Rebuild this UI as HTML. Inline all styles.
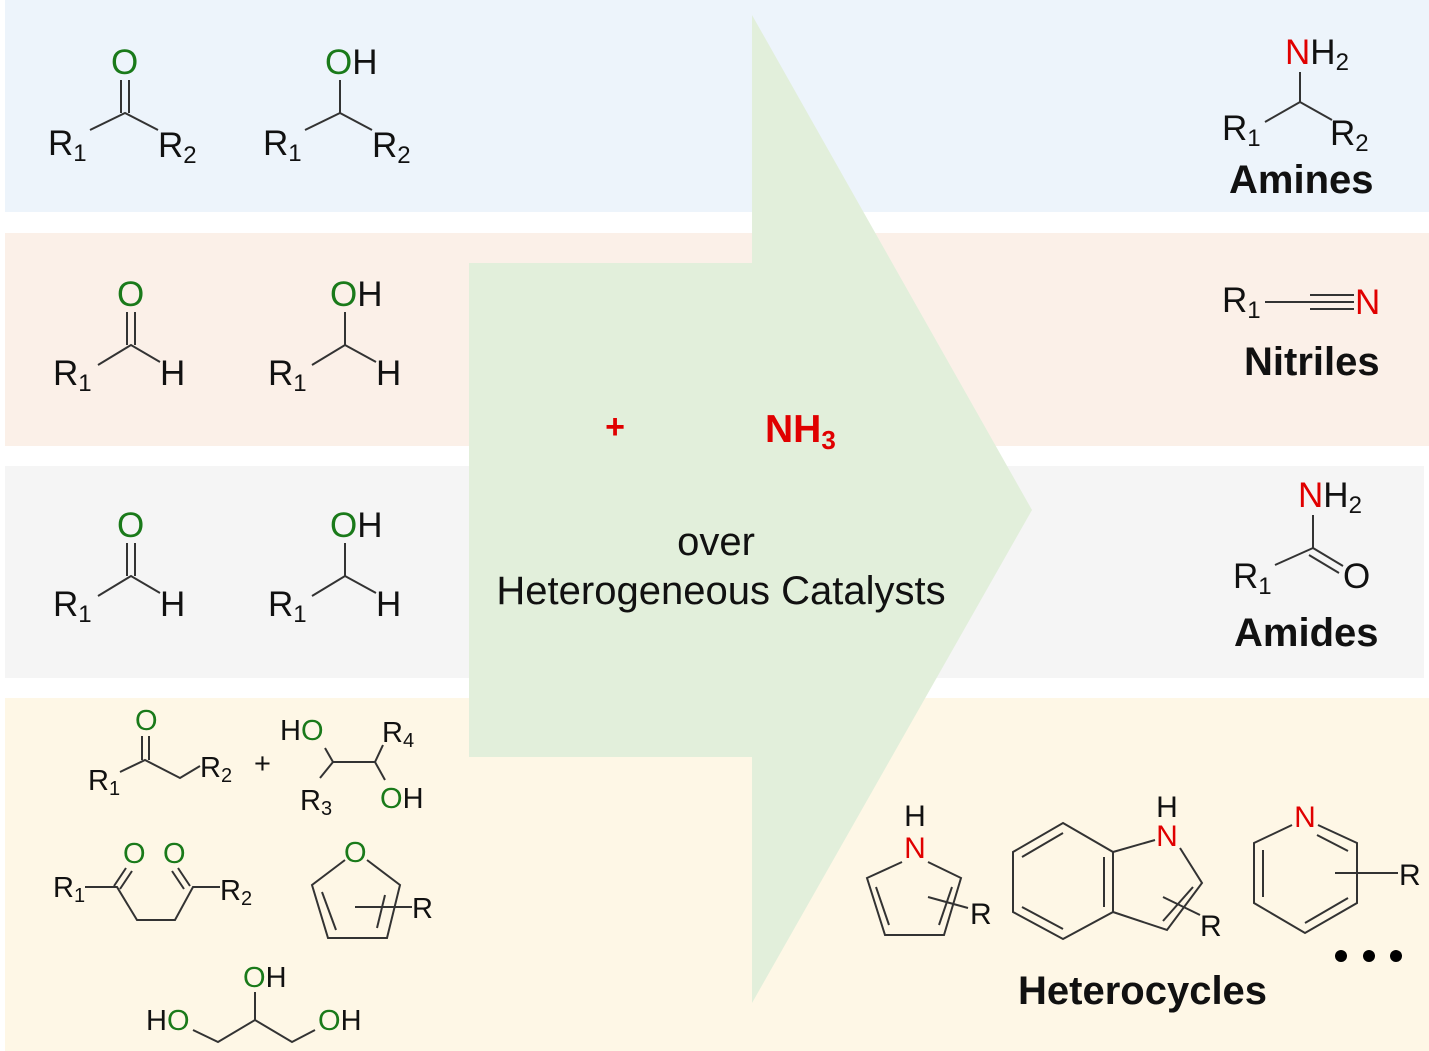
<!DOCTYPE html>
<html><head><meta charset="utf-8"><style>
html,body{margin:0;padding:0;background:#fff}
svg{display:block}
text{font-family:"Liberation Sans",Arial,sans-serif;fill:#111}
.g{fill:#1a7a1a}.r{fill:#e00000}
line,polyline,polygon.b{stroke:#333;stroke-width:2;fill:none}
.L{font-size:35px}.M{font-size:29px}.B{font-size:40px;font-weight:bold}
</style></head><body>
<svg width="1429" height="1051" viewBox="0 0 1429 1051" xmlns="http://www.w3.org/2000/svg">
<rect x="5" y="0" width="1424" height="212" fill="#edf4fb"/>
<rect x="5" y="233" width="1424" height="213" fill="#fbf0e8"/>
<rect x="5" y="466" width="1419" height="212" fill="#f5f5f5"/>
<rect x="5" y="698" width="1424" height="353" fill="#fef7e6"/>
<polygon points="469,263 752,263 752,15 1032,510 752,1003 752,757 469,757" fill="#e2efdb"/>

<!-- Row 1 -->
<g class="L">
<text x="111" y="74" class="g">O</text>
<line x1="121" y1="80" x2="121" y2="113"/><line x1="129" y1="80" x2="129" y2="113"/>
<polyline points="90,130 125,113 158,130"/>
<text x="48" y="155">R<tspan font-size="24" dy="6">1</tspan></text>
<text x="158" y="157">R<tspan font-size="24" dy="6">2</tspan></text>
<text x="325" y="74"><tspan class="g">O</tspan>H</text>
<line x1="340" y1="80" x2="340" y2="113"/>
<polyline points="305,130 340,113 372,130"/>
<text x="263" y="155">R<tspan font-size="24" dy="6">1</tspan></text>
<text x="372" y="157">R<tspan font-size="24" dy="6">2</tspan></text>

<!-- Row 2 -->
<text x="117" y="306" class="g">O</text>
<line x1="127" y1="312" x2="127" y2="345"/><line x1="135" y1="312" x2="135" y2="345"/>
<polyline points="98,365 131,345 160,362"/>
<text x="53" y="385">R<tspan font-size="24" dy="6">1</tspan></text>
<text x="160" y="385">H</text>
<text x="330" y="306"><tspan class="g">O</tspan>H</text>
<line x1="345" y1="312" x2="345" y2="345"/>
<polyline points="312,365 345,345 376,362"/>
<text x="268" y="385">R<tspan font-size="24" dy="6">1</tspan></text>
<text x="376" y="385">H</text>

<!-- Row 3 -->
<text x="117" y="537" class="g">O</text>
<line x1="127" y1="543" x2="127" y2="576"/><line x1="135" y1="543" x2="135" y2="576"/>
<polyline points="98,596 131,576 160,593"/>
<text x="53" y="616">R<tspan font-size="24" dy="6">1</tspan></text>
<text x="160" y="616">H</text>
<text x="330" y="537"><tspan class="g">O</tspan>H</text>
<line x1="345" y1="543" x2="345" y2="576"/>
<polyline points="312,596 345,576 376,593"/>
<text x="268" y="616">R<tspan font-size="24" dy="6">1</tspan></text>
<text x="376" y="616">H</text>
</g>

<!-- Row 4 -->
<g class="M">
<text x="135" y="730" class="g">O</text>
<line x1="142" y1="736" x2="142" y2="760"/><line x1="149" y1="736" x2="149" y2="760"/>
<polyline points="120,772 145,760 180,778 200,766"/>
<text x="88" y="790">R<tspan font-size="20" dy="5">1</tspan></text>
<text x="200" y="777">R<tspan font-size="20" dy="5">2</tspan></text>
<text x="254" y="773">+</text>
<text x="280" y="740">H<tspan class="g">O</tspan></text>
<polyline points="325,748 333,762 375,762 383,745"/>
<polyline points="333,762 320,778"/><polyline points="375,762 385,780"/>
<text x="382" y="742">R<tspan font-size="20" dy="5">4</tspan></text>
<text x="300" y="810">R<tspan font-size="20" dy="5">3</tspan></text>
<text x="380" y="808"><tspan class="g">O</tspan>H</text>

<text x="123" y="863" class="g">O</text>
<text x="163" y="863" class="g">O</text>
<line x1="126" y1="868" x2="114" y2="886"/><line x1="132" y1="871" x2="120" y2="889"/>
<line x1="178" y1="868" x2="190" y2="886"/><line x1="172" y1="871" x2="184" y2="889"/>
<polyline points="85,887 117,887 137,920 175,920 193,887 220,887"/>
<text x="53" y="897">R<tspan font-size="20" dy="5">1</tspan></text>
<text x="220" y="900">R<tspan font-size="20" dy="5">2</tspan></text>

<text x="344" y="862" class="g">O</text>
<polyline points="345,860 312,885 328,938 387,938 400,885 367,860"/>
<line x1="322" y1="892" x2="336" y2="930"/><line x1="385" y1="895" x2="377" y2="928"/>
<line x1="355" y1="907" x2="412" y2="907"/>
<text x="412" y="918">R</text>

<text x="243" y="987"><tspan class="g">O</tspan>H</text>
<text x="146" y="1030">H<tspan class="g">O</tspan></text>
<text x="318" y="1030"><tspan class="g">O</tspan>H</text>
<polyline points="193,1030 218,1042 255,1020 292,1042 315,1030"/>
<line x1="255" y1="992" x2="255" y2="1020"/>
</g>

<!-- Right side -->
<g class="L">
<text x="1285" y="64"><tspan class="r">N</tspan>H<tspan font-size="24" dy="6">2</tspan></text>
<line x1="1300" y1="72" x2="1300" y2="102"/>
<polyline points="1265,122 1300,102 1332,120"/>
<text x="1222" y="140">R<tspan font-size="24" dy="6">1</tspan></text>
<text x="1330" y="145">R<tspan font-size="24" dy="6">2</tspan></text>

<text x="1222" y="312">R<tspan font-size="24" dy="6">1</tspan></text>
<line x1="1265" y1="302" x2="1310" y2="302"/>
<line x1="1310" y1="295" x2="1354" y2="295"/><line x1="1310" y1="302" x2="1354" y2="302"/><line x1="1310" y1="309" x2="1354" y2="309"/>
<text x="1355" y="314" class="r">N</text>

<text x="1298" y="507"><tspan class="r">N</tspan>H<tspan font-size="24" dy="6">2</tspan></text>
<line x1="1313" y1="515" x2="1313" y2="548"/>
<line x1="1275" y1="565" x2="1313" y2="548"/>
<line x1="1313" y1="548" x2="1343" y2="566"/><line x1="1309" y1="555" x2="1339" y2="573"/>
<text x="1233" y="588">R<tspan font-size="24" dy="6">1</tspan></text>
<text x="1343" y="588">O</text>
</g>
<text x="1229" y="193" class="B">Amines</text>
<text x="1244" y="375" class="B">Nitriles</text>
<text x="1234" y="646" class="B">Amides</text>

<!-- Middle -->
<text x="615" y="438" font-size="34" font-weight="bold" class="r" text-anchor="middle">+</text>
<text x="765" y="442" font-size="39" font-weight="bold" class="r">NH<tspan font-size="26" dy="7">3</tspan></text>
<text x="716" y="555" font-size="40" text-anchor="middle">over</text>
<text x="721" y="604" font-size="40" text-anchor="middle">Heterogeneous Catalysts</text>

<!-- Heterocycles -->
<g class="L">
<text x="915" y="826" text-anchor="middle" font-size="30">H</text>
<text x="915" y="858" text-anchor="middle" font-size="30" class="r">N</text>
<polyline points="928,862 961,878 944,935 885,935 867,878 902,862"/>
<line x1="952" y1="887" x2="939" y2="925"/><line x1="876" y1="887" x2="889" y2="925"/>
<line x1="928" y1="897" x2="968" y2="908"/>
<text x="970" y="924" font-size="30">R</text>

<polygon class="b" points="1063,823 1113,852 1113,912 1063,939 1013,912 1013,852"/>
<line x1="1063" y1="833" x2="1022" y2="857"/><line x1="1104" y1="857" x2="1104" y2="907"/><line x1="1063" y1="929" x2="1022" y2="907"/>
<polyline points="1113,852 1155,840"/><polyline points="1180,848 1202,883 1167,930 1113,912"/>
<line x1="1193" y1="887" x2="1163" y2="921"/>
<line x1="1163" y1="897" x2="1200" y2="915"/>
<text x="1167" y="817" text-anchor="middle" font-size="30">H</text>
<text x="1167" y="846" text-anchor="middle" font-size="30" class="r">N</text>
<text x="1200" y="936" font-size="30">R</text>

<text x="1305" y="827" text-anchor="middle" font-size="30" class="r">N</text>
<polyline points="1318,825 1357,843 1357,903 1305,933 1254,903 1254,843 1292,825"/>
<line x1="1317" y1="835" x2="1348" y2="851"/><line x1="1263" y1="850" x2="1263" y2="897"/><line x1="1305" y1="923" x2="1348" y2="898"/>
<line x1="1335" y1="873" x2="1398" y2="873"/>
<text x="1399" y="885" font-size="30">R</text>
</g>
<circle cx="1341" cy="956" r="6" fill="#000"/><circle cx="1369" cy="956" r="6" fill="#000"/><circle cx="1396" cy="956" r="6" fill="#000"/>
<text x="1018" y="1004" class="B" font-size="41">Heterocycles</text>
</svg>
</body></html>
